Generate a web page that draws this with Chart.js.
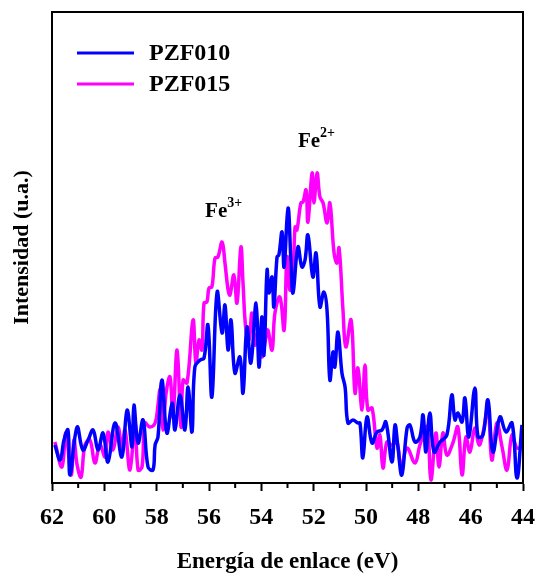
<!DOCTYPE html>
<html>
<head>
	<meta charset="utf-8">
	<title>Espectro Fe 3p</title>
	<script src="https://cdn.jsdelivr.net/npm/chart.js@4.4.1/dist/chart.umd.min.js"></script>
	<style>
		body { margin: 0; background: #fff; }
		#contenedor { width: 537px; height: 574px; }
	</style>
</head>
<body>
	<div id="contenedor">
		<canvas id="grafico" width="537" height="574"></canvas>
	</div>
	<script>
		// datos (energia en eV, intensidad en u.a.)
		var energia_010 = [61.89, 61.69, 61.54, 61.39, 61.31, 61.04, 60.82, 60.62, 60.43, 60.24, 60.05, 59.86, 59.59, 59.33, 59.13, 58.94, 58.87, 58.71, 58.52, 58.33, 58.14, 58.06, 57.95, 57.80, 57.61, 57.41, 57.30, 57.11, 56.92, 56.80, 56.65, 56.54, 56.34, 56.19, 56.04, 55.89, 55.69, 55.50, 55.39, 55.27, 55.16, 55.01, 54.82, 54.70, 54.55, 54.40, 54.20, 54.09, 53.98, 53.90, 53.78, 53.71, 53.59, 53.52, 53.40, 53.33, 53.21, 53.13, 52.98, 52.87, 52.79, 52.60, 52.45, 52.33, 52.22, 52.03, 51.91, 51.76, 51.61, 51.49, 51.38, 51.26, 51.19, 51.07, 50.92, 50.80, 50.69, 50.50, 50.31, 50.23, 50.12, 49.96, 49.77, 49.58, 49.39, 49.24, 49.01, 48.89, 48.78, 48.63, 48.43, 48.32, 48.13, 47.94, 47.82, 47.71, 47.56, 47.40, 47.17, 46.91, 46.72, 46.60, 46.49, 46.33, 46.22, 46.07, 45.84, 45.72, 45.53, 45.34, 45.15, 44.88, 44.65, 44.42, 44.23, 44.04];
		var intensidad_010 = [38, 23, 43, 53, 8, 56, 33, 43, 53, 33, 50, 21, 60, 26, 73, 36, 78, 40, 63, 16, 13, 38, 46, 103, 50, 80, 53, 88, 53, 96, 51, 116, 123, 125, 158, 86, 191, 150, 178, 133, 163, 110, 126, 90, 156, 120, 180, 116, 166, 128, 213, 190, 206, 176, 226, 228, 251, 216, 275, 223, 190, 236, 216, 223, 248, 206, 230, 176, 191, 173, 103, 131, 116, 151, 110, 96, 60, 63, 60, 60, 25, 66, 40, 51, 53, 61, 21, 58, 36, 8, 55, 58, 41, 46, 68, 31, 70, 31, 41, 48, 88, 63, 70, 61, 85, 46, 95, 46, 48, 83, 31, 66, 51, 60, 5, 58];

		var energia_015 = [61.89, 61.62, 61.47, 61.27, 61.16, 61.04, 60.89, 60.74, 60.55, 60.36, 60.17, 59.97, 59.86, 59.67, 59.48, 59.33, 59.21, 59.02, 58.83, 58.71, 58.56, 58.45, 58.26, 58.06, 57.95, 57.87, 57.76, 57.64, 57.49, 57.38, 57.22, 57.07, 56.99, 56.84, 56.61, 56.50, 56.38, 56.27, 56.19, 56.08, 56.00, 55.89, 55.77, 55.66, 55.50, 55.39, 55.27, 55.20, 55.05, 54.93, 54.78, 54.70, 54.59, 54.47, 54.36, 54.24, 54.13, 53.98, 53.82, 53.75, 53.59, 53.48, 53.29, 53.13, 53.02, 52.91, 52.79, 52.71, 52.64, 52.49, 52.41, 52.29, 52.22, 52.06, 51.99, 51.87, 51.76, 51.64, 51.49, 51.38, 51.22, 51.11, 51.03, 50.88, 50.77, 50.57, 50.42, 50.31, 50.15, 50.04, 49.93, 49.77, 49.58, 49.47, 49.35, 49.20, 49.01, 48.82, 48.66, 48.43, 48.13, 47.94, 47.67, 47.52, 47.33, 47.21, 47.06, 46.91, 46.68, 46.49, 46.33, 46.18, 46.03, 45.84, 45.68, 45.53, 45.34, 45.19, 45.00, 44.80, 44.61, 44.42, 44.23, 44.04];
		var intensidad_015 = [41, 16, 50, 8, 43, 18, 6, 38, 43, 20, 38, 26, 51, 33, 56, 36, 53, 13, 60, 13, 16, 60, 56, 60, 78, 93, 53, 90, 106, 66, 133, 56, 103, 100, 163, 120, 143, 133, 180, 181, 195, 196, 225, 226, 241, 220, 193, 188, 208, 180, 236, 200, 153, 143, 170, 138, 150, 126, 146, 153, 133, 170, 186, 153, 226, 193, 210, 256, 253, 280, 281, 293, 261, 310, 280, 310, 286, 280, 260, 280, 230, 220, 235, 173, 136, 163, 90, 115, 73, 118, 73, 75, 35, 48, 15, 41, 38, 41, 16, 35, 20, 38, 56, 3, 50, 16, 50, 28, 40, 56, 8, 46, 31, 55, 38, 50, 75, 23, 60, 36, 13, 48, 35, 36];

		var marcas_x = [62, 60, 58, 56, 54, 52, 50, 48, 46, 44];
		var series = ["PZF010", "PZF015"];
		var colores = ["#0000ff", "#ff00ff"];
		// etiquetas de los picos: [texto, superindice, energia, intensidad]
		var picos = [["Fe", "3+", 56.15, 266], ["Fe", "2+", 52.60, 336]];

		var fuente = '"Liberation Serif", "Times New Roman", serif';

		function puntos(ex, ey) {
			var p = [];
			for (var i = 0; i < ex.length; i++) {
				p.push({x: ex[i], y: ey[i]});
			}
			return p;
		}

		var extras = {
			id: "extras",
			afterDraw: function(chart) {
				var ctx = chart.ctx;
				var a = chart.chartArea;
				var sx = chart.scales.x;
				var sy = chart.scales.y;
				ctx.save();
				ctx.strokeStyle = "#000";
				ctx.lineWidth = 2;
				// marco superior y derecho
				ctx.beginPath();
				ctx.moveTo(a.left, a.top);
				ctx.lineTo(a.right, a.top);
				ctx.lineTo(a.right, a.bottom);
				ctx.stroke();
				// marcas menores
				for (var v = 61; v > 44; v -= 2) {
					var px = sx.getPixelForValue(v);
					ctx.beginPath();
					ctx.moveTo(px, a.bottom);
					ctx.lineTo(px, a.bottom + 5);
					ctx.stroke();
				}
				// leyenda
				ctx.lineWidth = 3;
				ctx.font = "bold 24px " + fuente;
				ctx.textBaseline = "middle";
				ctx.fillStyle = "#000";
				for (var i = 0; i < series.length; i++) {
					var yy = a.top + 41 + i * 31;
					ctx.strokeStyle = colores[i];
					ctx.beginPath();
					ctx.moveTo(a.left + 25, yy);
					ctx.lineTo(a.left + 82, yy);
					ctx.stroke();
					ctx.fillText(series[i], a.left + 97, yy + 1);
				}
				// etiquetas Fe
				ctx.textBaseline = "alphabetic";
				for (var j = 0; j < picos.length; j++) {
					var x0 = sx.getPixelForValue(picos[j][2]);
					var y0 = sy.getPixelForValue(picos[j][3]);
					ctx.font = "bold 21px " + fuente;
					ctx.fillText(picos[j][0], x0, y0);
					var w = ctx.measureText(picos[j][0]).width;
					ctx.font = "bold 14px " + fuente;
					ctx.fillText(picos[j][1], x0 + w, y0 - 10);
				}
				ctx.restore();
			}
		};

		var canvas = document.getElementById("grafico").getContext("2d");
		window.grafico = new Chart(canvas, {
			type: "line",
			data: {
				datasets: [{
					label: series[0],
					data: puntos(energia_010, intensidad_010),
					borderColor: colores[0],
					borderWidth: 3.5,
					pointRadius: 0,
					tension: 0.4,
					fill: false
				},
				{
					label: series[1],
					data: puntos(energia_015, intensidad_015),
					borderColor: colores[1],
					borderWidth: 3.5,
					pointRadius: 0,
					tension: 0.4,
					fill: false
				}]
			},
			options: {
				responsive: false,
				animation: false,
				devicePixelRatio: 1,
				layout: { padding: { top: 12, right: 14, left: 0, bottom: 0 } },
				plugins: {
					legend: { display: false },
					tooltip: { enabled: false }
				},
				scales: {
					x: {
						type: "linear",
						reverse: true,
						min: 44,
						max: 62,
						afterFit: function(s) {
							s.height = 91;
							s.paddingLeft = 0;
							s.paddingRight = 0;
						},
						afterBuildTicks: function(s) {
							s.ticks = marcas_x.map(function(v) { return {value: v}; });
						},
						grid: { display: true, drawOnChartArea: false, drawTicks: true, tickLength: 8, tickWidth: 2, tickColor: "#000" },
						border: { display: true, color: "#000", width: 2 },
						ticks: {
							color: "#000",
							padding: 12,
							maxRotation: 0,
							autoSkip: false,
							font: { family: fuente, size: 24, weight: "bold" }
						},
						title: {
							display: true,
							text: "Energía de enlace (eV)",
							color: "#000",
							padding: { top: 0, bottom: 0 },
							font: { family: fuente, size: 23, weight: "bold", lineHeight: 1 }
						}
					},
					y: {
						min: 0,
						max: 471,
						afterFit: function(s) { s.width = 52; },
						grid: { display: false },
						border: { display: true, color: "#000", width: 2 },
						ticks: { display: false },
						title: {
							display: true,
							text: "Intensidad (u.a.)",
							color: "#000",
							padding: { top: 11, bottom: 0 },
							font: { family: fuente, size: 22, weight: "bold", lineHeight: 1 }
						}
					}
				}
			},
			plugins: [extras]
		});
	</script>
</body>
</html>
